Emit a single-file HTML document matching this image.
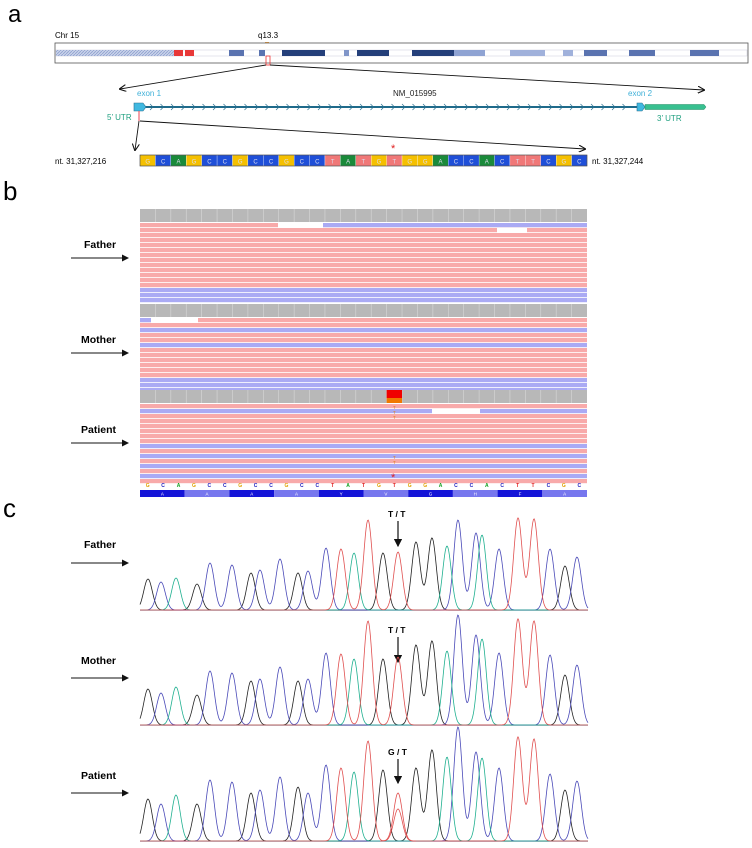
<!DOCTYPE html>
<html><head><meta charset="utf-8">
<style>
html,body{margin:0;padding:0;background:#fff;}
body{width:752px;height:848px;overflow:hidden;font-family:"Liberation Sans",sans-serif;}
svg{display:block}
</style></head>
<body>
<svg id="fig" width="752" height="848" viewBox="0 0 752 848" xmlns="http://www.w3.org/2000/svg" font-family="Liberation Sans, sans-serif">
<defs>
<pattern id="hatch" width="3" height="3" patternUnits="userSpaceOnUse"><rect width="3" height="3" fill="#c9d3ea"/><path d="M0,3 L3,0" stroke="#8fa0cf" stroke-width="0.8"/></pattern>
<marker id="ah" markerWidth="8" markerHeight="8" refX="7" refY="4" orient="auto"><path d="M0,0 L8,4 L0,8" fill="none" stroke="#111" stroke-width="1.2"/></marker>
<marker id="ahf" markerWidth="7" markerHeight="7" refX="6" refY="3.5" orient="auto"><path d="M0,0 L7,3.5 L0,7 Z" fill="#111"/></marker>
</defs>
<text x="8" y="22" font-size="24">a</text>
<text x="3" y="200" font-size="26">b</text>
<text x="3" y="517" font-size="26">c</text>

<g>
<text x="55" y="38" font-size="8">Chr 15</text>
<text x="258" y="38" font-size="8">q13.3</text>
<rect x="265" y="42" width="4" height="6" fill="#f0a040"/>
<rect x="55" y="43" width="693" height="20" fill="#fff" stroke="#555" stroke-width="0.8"/>
<rect x="56" y="50" width="691" height="6" fill="#fff" stroke="#ccd" stroke-width="0.5"/>
<rect x="56" y="50" width="118" height="6" fill="url(#hatch)"/>
<rect x="174" y="50" width="9" height="6" fill="#e83838"/><rect x="185" y="50" width="9" height="6" fill="#e83838"/>
<rect x="229" y="50" width="15" height="6" fill="#5a73b0"/>
<rect x="259" y="50" width="6" height="6" fill="#5a73b0"/>
<rect x="282" y="50" width="43" height="6" fill="#243f7a"/>
<rect x="344" y="50" width="5" height="6" fill="#8095c8"/>
<rect x="357" y="50" width="32" height="6" fill="#243f7a"/>
<rect x="412" y="50" width="42" height="6" fill="#243f7a"/>
<rect x="454" y="50" width="31" height="6" fill="#8fa3d3"/>
<rect x="510" y="50" width="35" height="6" fill="#a0b1db"/>
<rect x="563" y="50" width="10" height="6" fill="#a0b1db"/>
<rect x="584" y="50" width="23" height="6" fill="#5a73b0"/>
<rect x="629" y="50" width="26" height="6" fill="#5a73b0"/>
<rect x="690" y="50" width="29" height="6" fill="#5a73b0"/>
<rect x="266" y="56" width="4" height="9" fill="none" stroke="#e33" stroke-width="0.8"/>
<line x1="266" y1="65" x2="120" y2="89" stroke="#111" stroke-width="0.9" marker-end="url(#ah)"/>
<line x1="270" y1="65" x2="704" y2="90" stroke="#111" stroke-width="0.9" marker-end="url(#ah)"/>
</g>

<g>
<text x="393" y="96" font-size="8" fill="#222">NM_015995</text>
<text x="137" y="96" font-size="8" fill="#3fb0d8">exon 1</text>
<text x="628" y="96" font-size="8" fill="#3fb0d8">exon 2</text>
<text x="107" y="120" font-size="8" fill="#20a080">5’ UTR</text>
<text x="657" y="121" font-size="8" fill="#20a080">3’ UTR</text>
<line x1="136" y1="107" x2="640" y2="107" stroke="#1e6a8a" stroke-width="2"/>
<g id="chevrons" stroke="#2a7090" stroke-width="0.7" fill="none"></g>
<path d="M134,103 L143,103 L146,107 L143,111 L134,111 Z" fill="#40b8e0" stroke="#2a7090" stroke-width="0.6"/>
<path d="M637,103 L642,103 L645,107 L642,111 L637,111 Z" fill="#40b8e0" stroke="#2a7090" stroke-width="0.6"/>
<path d="M645,104.5 L704,104.5 L706,107 L704,109.5 L645,109.5 Z" fill="#38c090" stroke="#1f8a60" stroke-width="0.5"/>
<line x1="139" y1="111" x2="139" y2="121" stroke="#e84050" stroke-width="1"/>
<line x1="139" y1="121" x2="135" y2="150" stroke="#111" stroke-width="0.9" marker-end="url(#ah)"/>
<line x1="140" y1="121" x2="585" y2="149" stroke="#111" stroke-width="0.9" marker-end="url(#ah)"/>
</g>

<g>
<text x="55" y="164" font-size="8">nt. 31,327,216</text>
<text x="592" y="164" font-size="8">nt. 31,327,244</text>
<text x="391" y="152" font-size="11" fill="#e02020">*</text>
<g id="seqboxes"></g>
</g>

<g id="igv"></g>
<g id="igvseq"></g>
<text x="391" y="481" font-size="11" fill="#e02020">*</text>

<g font-size="10.5" font-weight="bold">
<text x="84" y="248">Father</text><line x1="71" y1="258" x2="128" y2="258" stroke="#111" stroke-width="1" marker-end="url(#ahf)"/>
<text x="81" y="343">Mother</text><line x1="71" y1="353" x2="128" y2="353" stroke="#111" stroke-width="1" marker-end="url(#ahf)"/>
<text x="81" y="433">Patient</text><line x1="71" y1="443" x2="128" y2="443" stroke="#111" stroke-width="1" marker-end="url(#ahf)"/>
</g>
<g font-size="10.5" font-weight="bold">
<text x="84" y="548">Father</text><line x1="71" y1="563" x2="128" y2="563" stroke="#111" stroke-width="1" marker-end="url(#ahf)"/>
<text x="81" y="664">Mother</text><line x1="71" y1="678" x2="128" y2="678" stroke="#111" stroke-width="1" marker-end="url(#ahf)"/>
<text x="81" y="779">Patient</text><line x1="71" y1="793" x2="128" y2="793" stroke="#111" stroke-width="1" marker-end="url(#ahf)"/>
<text x="388" y="517" font-size="8.5">T / T</text>
<text x="388" y="633" font-size="8.5">T / T</text>
<text x="388" y="755" font-size="8.5">G / T</text>
<line x1="398" y1="521" x2="398" y2="546" stroke="#111" stroke-width="1.2" marker-end="url(#ahf)"/>
<line x1="398" y1="637" x2="398" y2="662" stroke="#111" stroke-width="1.2" marker-end="url(#ahf)"/>
<line x1="398" y1="759" x2="398" y2="783" stroke="#111" stroke-width="1.2" marker-end="url(#ahf)"/>
</g>
<g id="chrom"></g>
</svg>
<script>
const bases = ["G","C","A","G","C","C","G","C","C","G","C","C","T","A","T","G","T","G","G","A","C","C","A","C","T","T","C","G","C"];
const peakX = [148,161,176,197,210,232,251,260,280,298,308,326,341,354,368,383,398,416,432,447,458,476,482,499,518,534,550,565,577];
const fatherH = [31,28,32,26,47,45,37,40,51,37,39,62,61,57,90,57,58,68,72,64,90,77,75,61,92,91,61,44,53];
const motherH = [36,32,38,30,54,52,44,46,58,44,46,72,71,66,104,66,68,80,84,74,110,90,86,72,106,104,70,50,60];
const patientH = [42,37,46,37,61,59,48,51,64,54,48,76,73,69,100,71,48,73,91,84,114,89,83,73,104,102,67,51,60];
const patientMinorBase = ["", "", "", "", "", "", "", "", "", "", "", "", "", "", "", "", "T", "", "", "", "", "", "", "", "", "", "", "", ""];
const patientMinorH = [0,0,0,0,0,0,0,0,0,0,0,0,0,0,0,0,32,0,0,0,0,0,0,0,0,0,0,0,0];
const aminoAcids = ["A","A","A","A","Y","V","G","H","F","A"];
const fatherReads = ["P","P","P","P","P","P","P","P","P","P","P","P","P","B","B","B"];
const motherReads = ["P","P","B","P","P","B","P","P","P","P","P","P","B","B","B"];
const patientReads = ["P","B","P","P","P","P","P","P","B","P","B","P","B","P","B","P"];

const NS="http://www.w3.org/2000/svg";
function mk(tag,attrs,parent){const e=document.createElementNS(NS,tag);for(const k in attrs)e.setAttribute(k,attrs[k]);parent.appendChild(e);return e;}
const baseFill={G:"#f5c000",C:"#1f4fd8",A:"#1a8a3a",T:"#f07878"};
const traceCol={G:"#222222",C:"#4a4ab8",A:"#20b090",T:"#e05050"};
const igvBaseCol={G:"#e0a000",C:"#2020c0",A:"#10a020",T:"#e02020"};

const chev=document.getElementById('chevrons');
for(let x=150;x<632;x+=10.5){mk('path',{d:`M${x},104 L${x+3},107 L${x},110`},chev);}

const sb=document.getElementById('seqboxes');
const sx0=140,sw=(587-140)/bases.length;
bases.forEach((b,i)=>{
 const r=mk('rect',{x:sx0+i*sw,y:155,width:sw,height:11,fill:baseFill[b],stroke:"#fff","stroke-width":0.3},sb);
 
 
 const t=mk('text',{x:sx0+i*sw+sw/2,y:163.5,"font-size":6,"text-anchor":"middle",fill:"#dde"},sb);t.textContent=b;
});
mk('rect',{x:140,y:155,width:447,height:11,fill:"none",stroke:"#333","stroke-width":0.6},sb);

const ig=document.getElementById('igv');
const ix0=140,iw=447,colW=iw/bases.length;
function block(y0,reads){
 const cov=mk('rect',{x:ix0,y:y0,width:iw,height:13,fill:"#b8b8b8"},ig);
 
 
 for(let i=1;i<bases.length;i++)mk('line',{x1:ix0+i*colW,y1:y0,x2:ix0+i*colW,y2:y0+13,stroke:"#d8d8d8","stroke-width":0.6},ig);
 reads.forEach((s,i)=>{
  const r=mk('rect',{x:ix0,y:y0+14+i*5,width:iw,height:4.2,fill:s==="P"?"#f8aaaa":"#aaaaf4"},ig);
  
  
 });
}
block(209,fatherReads);
mk('rect',{x:278,y:223,width:45,height:5,fill:"#fff"},ig);
mk('rect',{x:323,y:223,width:264,height:4.2,fill:"#aaaaf4"},ig);
mk('rect',{x:497,y:228,width:30,height:5,fill:"#fff"},ig);
block(304,motherReads);
mk('rect',{x:140,y:318,width:11,height:4.2,fill:"#aaaaf4"},ig);
mk('rect',{x:151,y:318,width:47,height:5,fill:"#fff"},ig);
block(390,patientReads);
mk('rect',{x:432,y:409,width:48,height:5,fill:"#fff"},ig);
mk('rect',{x:ix0+16*colW,y:390,width:colW,height:8,fill:"#f00000"},ig);
mk('rect',{x:ix0+16*colW,y:398,width:colW,height:5,fill:"#f07800"},ig);
[406,411,416,456,461].forEach(y=>{
 const t=mk('text',{x:ix0+16.5*colW,y:y+3,"font-size":4.5,"text-anchor":"middle",fill:"#e08020"},ig);
 t.textContent="T";
});

const is=document.getElementById('igvseq');
bases.forEach((b,i)=>{const t=mk('text',{x:ix0+i*colW+colW/2,y:487,"font-size":5,"text-anchor":"middle",fill:igvBaseCol[b],"font-weight":"bold"},is);t.textContent=b;});
aminoAcids.forEach((a,i)=>{
 const w=iw/aminoAcids.length;
 const x=ix0+i*w;
 const r=mk('rect',{x:x,y:490,width:w,height:7,fill:i%2?"#7777ee":"#1414d8"},is);
 
 
 const t=mk('text',{x:x+w/2,y:495.5,"font-size":4.5,"text-anchor":"middle",fill:"#fff"},is);t.textContent=a;
});

const cg=document.getElementById('chrom');
const sig=4.3;
function trace(baseY,heights,name){
 const g=mk('g',{},cg);
 
 
 mk('line',{x1:140,y1:baseY+0.5,x2:588,y2:baseY+0.5,stroke:"#b0b0d0","stroke-width":0.6},g);
 ["G","C","A","T"].forEach(b=>{
  let d="";
  for(let x=140;x<=588;x+=0.7){
   let y=0;
   peakX.forEach((px,i)=>{if(bases[i]===b)y+=heights[i]*Math.exp(-((x-px)**2)/(2*sig*sig));});
   d+=(d?"L":"M")+x.toFixed(1)+","+(baseY-y).toFixed(1);
  }
  const p=mk('path',{d:d,fill:"none",stroke:traceCol[b],"stroke-width":0.8},g);
  
  
 });
 return g;
}
trace(610,fatherH,'father-chromatogram');
trace(725,motherH,'mother-chromatogram');
const pg=trace(841,patientH,'patient-chromatogram');
let d="";
for(let x=380;x<=416;x+=0.7){let y=0;peakX.forEach((px,i)=>{if(patientMinorBase[i])y+=patientMinorH[i]*Math.exp(-((x-px)**2)/(2*sig*sig));});d+=(d?"L":"M")+x.toFixed(1)+","+(841-y).toFixed(1);}
const mp=mk('path',{d:d,fill:"none",stroke:"#e05050","stroke-width":0.8},pg);


</script>
</body></html>
